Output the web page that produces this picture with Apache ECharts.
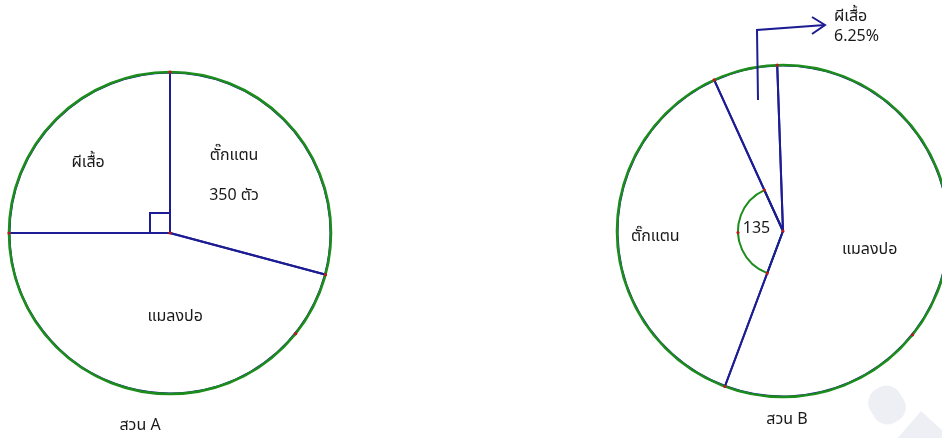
<!DOCTYPE html>
<html>
<head>
<meta charset="utf-8">
<script src="https://cdn.jsdelivr.net/npm/echarts@6/dist/echarts.min.js"></script>
<style>
html,body{margin:0;padding:0;background:#fff;}
#c{width:942px;height:438px;}
</style>
</head>
<body>
<div id="c"></div>
<script>
// ---- data ----
const gardenANames = ['ตั๊กแตน', 'แมลงปอ', 'ผีเสื้อ'];
const gardenAValues = [350, 550, 300];          // ตัว
const gardenAKnown = ['ตั๊กแตน'];               // slices whose count is printed
const gardenBNames = ['แมลงปอ', 'ตั๊กแตน', 'ผีเสื้อ'];
const gardenBPercent = [56.25, 37.5, 6.25];     // %
const gardenBAngleSlice = 'ตั๊กแตน';            // slice with the marked angle
const gardenBOutsideSlice = 'ผีเสื้อ';          // slice labelled with arrow
const captions = ['สวน A', 'สวน B'];

// ---- style / layout ----
const NAVY = '#1c1c94';
const GREEN = '#1c8c1c';
const RED = '#c01818';
const TXT = '#1a1a1a';
const FONT = 'Tahoma, "Noto Sans Thai", "Noto Sans", sans-serif';
const FS = 16;
const A = {cx: 170, cy: 233, r: 161, start: 90};
const B = {cx: 783, cy: 231, r: 166, start: 92, arcR: 45};
const offA = [[-2, -6], [16, 2], [-23, -10]];
const offB = [[2, 6], [-42, 4], [0, 0]];

const chart = echarts.init(document.getElementById('c'), null, {renderer: 'canvas'});

const clear = 'rgba(0,0,0,0)';
const dataA = gardenANames.map((n, i) => ({name: n, value: gardenAValues[i]}));
const dataB = gardenBNames.map((n, i) => ({name: n, value: gardenBPercent[i]}));
const totalB = gardenBPercent.reduce((a, b) => a + b, 0);

function boundaries(start, values) {
  const tot = values.reduce((a, b) => a + b, 0);
  const out = [start];
  let a = start;
  values.forEach(v => { a -= v / tot * 360; out.push(a); });
  return out;
}
function pt(c, r, deg) {
  const t = deg * Math.PI / 180;
  return [c.cx + r * Math.cos(t), c.cy - r * Math.sin(t)];
}

const baseLabel = {show: true, position: 'inside', color: TXT, fontFamily: FONT, fontSize: FS, lineHeight: 20};

const series = [
  // angle arc for garden B
  {
    type: 'pie', z: 1, silent: true, animation: false,
    center: [B.cx, B.cy], radius: [0, B.arcR], startAngle: B.start, clockwise: true,
    data: dataB.map(d => ({
      name: d.name, value: d.value,
      itemStyle: d.name === gardenBAngleSlice
        ? {color: clear, borderColor: GREEN, borderWidth: 2}
        : {color: clear, borderWidth: 0},
      label: {show: d.name === gardenBAngleSlice}
    })),
    label: Object.assign({}, baseLabel, {
      formatter: p => String(Math.round(p.value / totalB * 360))
    }),
    labelLine: {show: false},
    labelLayout: () => ({dx: -1, dy: -2}),
    emphasis: {disabled: true}
  },
  // garden A slices
  {
    type: 'pie', z: 2, silent: true, animation: false,
    center: [A.cx, A.cy], radius: [0, A.r - 0.5], startAngle: A.start, clockwise: true,
    data: dataA,
    itemStyle: {color: clear, borderColor: NAVY, borderWidth: 2},
    label: Object.assign({}, baseLabel, {
      formatter: p => gardenAKnown.includes(p.name) ? p.name + '\n\n' + p.value + ' ตัว' : p.name
    }),
    labelLine: {show: false},
    labelLayout: p => ({dx: offA[p.dataIndex][0], dy: offA[p.dataIndex][1]}),
    emphasis: {disabled: true}
  },
  // garden B slices
  {
    type: 'pie', z: 2, silent: true, animation: false,
    center: [B.cx, B.cy], radius: [0, B.r - 0.5], startAngle: B.start, clockwise: true,
    data: dataB,
    itemStyle: {color: clear, borderColor: NAVY, borderWidth: 2},
    label: Object.assign({}, baseLabel, {
      formatter: p => p.name === gardenBOutsideSlice ? p.name + '\n' + p.value + '%' : p.name
    }),
    labelLine: {show: false},
    labelLayout: p => {
      if (p.dataIndex === gardenBNames.indexOf(gardenBOutsideSlice)) {
        return {x: 834, y: 28, align: 'left', verticalAlign: 'middle'};
      }
      return {dx: offB[p.dataIndex][0], dy: offB[p.dataIndex][1]};
    },
    emphasis: {disabled: true}
  },
  // green outlines
  {
    type: 'pie', z: 3, silent: true, animation: false,
    center: [A.cx, A.cy], radius: [0, A.r],
    data: [{value: 1, name: 'A'}],
    itemStyle: {color: clear, borderColor: GREEN, borderWidth: 2.6},
    label: {show: false}, labelLine: {show: false}, emphasis: {disabled: true}
  },
  {
    type: 'pie', z: 3, silent: true, animation: false,
    center: [B.cx, B.cy], radius: [0, B.r],
    data: [{value: 1, name: 'B'}],
    itemStyle: {color: clear, borderColor: GREEN, borderWidth: 2.6},
    label: {show: false}, labelLine: {show: false}, emphasis: {disabled: true}
  }
];

// red construction points
const dots = [];
const bA = boundaries(A.start, gardenAValues);
bA.slice(0, 3).forEach(a => dots.push(pt(A, A.r, a)));
dots.push([A.cx, A.cy]);
dots.push(pt(A, A.r, -38.7));
const bB = boundaries(B.start, gardenBPercent);
bB.slice(0, 3).forEach(a => dots.push(pt(B, B.r, a)));
dots.push([B.cx, B.cy]);
dots.push(pt(B, B.r, -38.7));
const ti = gardenBNames.indexOf(gardenBAngleSlice);
dots.push(pt(B, B.arcR, bB[ti]));
dots.push(pt(B, B.arcR, bB[ti + 1]));
dots.push(pt(B, B.arcR, (bB[ti] + bB[ti + 1]) / 2));

const graphic = [
  // watermark
  {type: 'rect', z: 0, x: 887, y: 405, rotation: 0.55,
   shape: {x: -17, y: -19, width: 34, height: 38, r: 15}, style: {fill: '#eeeff5'}},
  {type: 'polygon', z: 0, shape: {points: [[921, 411], [896, 440], [944, 440], [944, 432]]}, style: {fill: '#eeeff5'}},
  // right angle mark
  {type: 'rect', z: 10, shape: {x: A.cx - 20, y: A.cy - 20, width: 20, height: 20},
   style: {fill: 'none', stroke: NAVY, lineWidth: 2}},
  // arrow
  {type: 'polyline', z: 10, shape: {points: [[758, 100], [757, 30], [825, 25]]},
   style: {stroke: NAVY, lineWidth: 2, fill: 'none'}},
  {type: 'polyline', z: 10, shape: {points: [[812, 17], [825, 25], [812, 34]]},
   style: {stroke: NAVY, lineWidth: 2, fill: 'none'}},
  // captions
  {type: 'text', z: 10, x: 140, y: 427, style: {text: captions[0], fill: TXT, font: FS + 'px ' + FONT, textAlign: 'center', textVerticalAlign: 'middle'}},
  {type: 'text', z: 10, x: 787, y: 421, style: {text: captions[1], fill: TXT, font: FS + 'px ' + FONT, textAlign: 'center', textVerticalAlign: 'middle'}}
].concat(dots.map(p => ({
  type: 'circle', z: 20, shape: {cx: p[0], cy: p[1], r: 1.6}, style: {fill: RED}
})));

chart.setOption({
  backgroundColor: '#ffffff',
  animation: false,
  series: series,
  graphic: graphic
});
</script>
</body>
</html>
